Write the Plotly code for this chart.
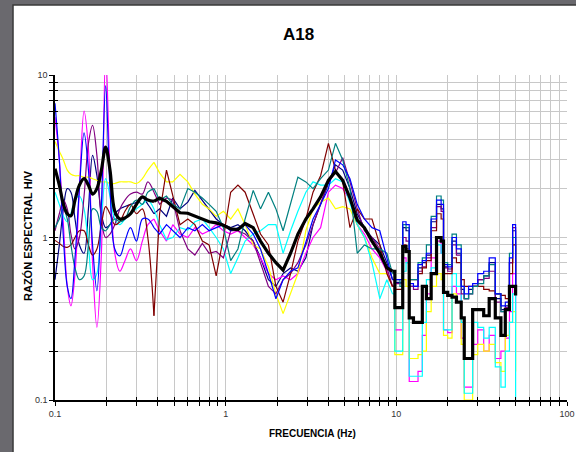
import plotly.graph_objects as go

# ---------------- data ----------------
FREQ = [0.100, 0.106, 0.112, 0.118, 0.124, 0.131, 0.139, 0.148, 0.157, 0.166,
        0.176, 0.187, 0.198, 0.210, 0.224, 0.240, 0.257, 0.277, 0.300, 0.325,
        0.35, 0.38, 0.41, 0.45, 0.49, 0.54, 0.60, 0.66, 0.73, 0.80,
        0.88, 0.97, 1.07, 1.18, 1.30, 1.45, 1.60, 1.78, 1.97, 2.17,
        2.40, 2.65, 2.95, 3.25, 3.60, 4.00, 4.40, 4.85, 5.35, 5.90,
        6.50, 7.20, 8.00, 8.80, 9.50,
        9.8, 10.5, 10.9, 11.4, 11.9, 12.6, 13.4, 14.2, 15.0, 16.0,
        17.2, 18.3, 18.9, 20.0, 21.2, 22.5, 24.0, 25.0, 26.5, 28.0,
        30.0, 32.5, 35.0, 38.0, 41.0, 43.5, 46.0, 48.0, 50.0]

NAVY = [0.55, 0.9, 1.5, 2.0, 1.9, 1.3, 0.9, 0.8, 1.5, 3.2,
        2.4, 1.4, 1.15, 1.2, 1.4, 1.5, 1.55, 1.6, 1.65, 1.75,
        1.6, 1.4, 1.5, 1.35, 1.75, 1.5, 1.65, 1.95, 1.7, 1.5,
        1.3, 1.2, 1.15, 1.2, 1.1, 0.95, 0.75, 0.55, 0.5, 0.6,
        0.65, 0.62, 0.75, 1.2, 1.6, 2.1, 2.8, 2.6, 2.0, 1.4,
        1.15, 1.0, 0.9, 0.7, 0.55,
        0.53, 0.53, 1.15, 1.1, 0.5, 0.5, 0.65, 0.7, 0.78, 1.25,
        1.6, 1.5, 0.66, 0.64, 0.95, 0.8, 0.48, 0.42, 0.48, 0.5,
        0.55, 0.58, 0.7, 0.42, 0.36, 0.38, 0.7, 1.1, 0.48]

MAGENTA = [5.5, 3.0, 1.2, 0.5, 0.38, 0.6, 2.0, 6.0, 3.5, 0.7,
           0.28, 0.8, 14.0, 2.5, 0.8, 0.62, 0.72, 0.85, 0.72, 0.95,
           1.2, 1.3, 1.1, 0.95, 1.2, 1.05, 1.0, 1.15, 1.05, 1.1,
           1.2, 1.1, 1.05, 1.1, 1.0, 0.9, 0.75, 0.6, 0.55, 0.58,
           0.55, 0.6, 0.8, 1.0, 1.15, 1.9, 2.1, 2.0, 1.7, 1.2,
           1.05, 0.85, 0.75, 0.62, 0.5,
           0.27, 0.27, 0.75, 0.7, 0.13, 0.13, 0.15, 0.25, 0.45, 0.75,
           0.95, 0.8, 0.27, 0.26, 0.5, 0.45, 0.24, 0.12, 0.12, 0.22,
           0.27, 0.2, 0.25, 0.18, 0.2, 0.24, 0.35, 0.6, 0.3]

YELLOW = [3.9, 3.4, 3.0, 2.6, 2.45, 2.4, 2.4, 2.35, 2.35, 2.3,
          2.25, 2.2, 2.2, 2.15, 2.15, 2.2, 2.2, 2.2, 2.15, 2.3,
          2.6, 2.9, 2.5, 2.2, 2.2, 2.45, 2.2, 1.85, 1.6, 1.5,
          1.35, 1.45, 1.3, 1.5, 1.2, 0.9, 0.85, 0.66, 0.45, 0.34,
          0.45, 0.6, 1.1, 1.5, 1.65, 1.75, 1.5, 1.55, 1.5, 1.2,
          1.0, 0.75, 0.6, 0.6, 0.5,
          0.19, 0.19, 0.55, 0.5, 0.18, 0.18, 0.19, 0.2, 0.35, 0.5,
          0.6, 0.55, 0.25, 0.24, 0.45, 0.4, 0.22, 0.1, 0.1, 0.19,
          0.22, 0.2, 0.22, 0.17, 0.15, 0.25, 0.3, 0.35, 0.15]

CYAN = [1.9, 1.6, 1.35, 1.25, 1.4, 1.7, 1.8, 1.5, 0.9, 0.55,
        0.6, 1.3, 2.3, 1.8, 1.3, 1.2, 1.3, 1.4, 1.5, 1.6,
        1.7, 1.5, 1.2, 0.97, 1.0, 1.15, 1.11, 1.25, 1.3, 1.15,
        1.0, 0.85, 0.6, 0.75, 0.95, 1.05, 1.1, 1.2, 1.2, 0.8,
        1.1, 1.45, 1.9, 2.2, 2.1, 2.1, 2.3, 2.2, 1.6, 1.2,
        1.0, 0.7, 0.42, 0.55, 0.45,
        0.2, 0.2, 0.62, 0.7, 0.14, 0.14, 0.14, 0.3, 0.55, 0.65,
        0.9, 0.8, 0.27, 0.27, 0.6, 0.5, 0.3, 0.11, 0.11, 0.3,
        0.28, 0.24, 0.28, 0.16, 0.12, 0.2, 0.3, 0.45, 0.1]

PURPLE = [1.1, 1.4, 1.7, 1.5, 1.05, 0.85, 1.0, 1.8, 3.8, 4.9,
          3.2, 1.3, 1.0, 1.05, 1.2, 1.5, 1.7, 1.85, 1.9, 1.85,
          2.2, 1.9, 1.6, 1.75, 1.7, 1.1, 0.85, 0.78, 0.92, 0.8,
          0.82, 0.75, 1.1, 1.1, 1.05, 0.95, 0.7, 0.5, 0.45, 0.55,
          0.6, 0.7, 0.9, 1.2, 1.6, 2.2, 2.5, 3.1, 2.2, 1.5,
          1.1, 1.0, 0.85, 0.65, 0.5,
          0.52, 0.52, 1.0, 0.95, 0.5, 0.48, 0.62, 0.66, 0.75, 1.15,
          1.55, 1.45, 0.65, 0.62, 0.9, 0.78, 0.45, 0.42, 0.45, 0.5,
          0.55, 0.56, 0.62, 0.4, 0.35, 0.37, 0.7, 1.15, 0.45]

MAROON = [0.96, 0.92, 0.88, 0.87, 0.9, 1.0, 1.1, 1.1, 0.9, 0.78,
          0.85, 1.2, 1.55, 1.4, 1.2, 1.25, 1.45, 1.6, 1.4, 1.5,
          1.0, 0.33, 1.4, 2.6, 1.8, 1.2, 1.3, 1.2, 0.95, 0.9,
          0.58, 1.0, 1.9, 2.1, 1.9, 1.4, 1.05, 0.9, 0.5, 0.4,
          0.6, 0.95, 1.3, 1.9, 2.4, 3.8, 2.6, 2.2, 1.15, 1.5,
          1.3, 1.3, 0.9, 0.6, 0.5,
          0.48, 0.48, 0.9, 0.85, 0.55, 0.55, 0.6, 0.65, 0.72, 1.1,
          1.4, 1.3, 0.6, 0.6, 0.75, 0.7, 0.55, 0.5, 0.5, 0.5,
          0.5, 0.48, 0.47, 0.45, 0.44, 0.42, 0.6, 0.9, 0.45]

TEAL = [1.15, 1.3, 1.5, 1.3, 0.9, 0.65, 0.55, 0.58, 0.9, 1.5,
        1.45, 1.15, 1.1, 1.2, 1.3, 1.25, 1.3, 1.55, 1.7, 1.6,
        1.9, 2.0, 1.7, 1.8, 1.6, 1.5, 2.0, 1.9, 1.75, 1.6,
        1.45, 1.15, 0.72, 0.85, 1.3, 1.95, 1.5, 1.9, 1.5, 1.1,
        1.6, 2.35, 2.2, 2.0, 2.3, 2.6, 3.8, 3.0, 2.0, 0.8,
        0.9, 0.85, 0.85, 0.8, 0.6,
        0.55, 0.5, 1.2, 1.15, 0.55, 0.55, 0.7, 0.75, 0.9, 1.35,
        1.8, 1.7, 0.7, 0.68, 1.05, 0.9, 0.5, 0.42, 0.45, 0.5,
        0.52, 0.58, 0.68, 0.45, 0.35, 0.36, 0.8, 1.0, 0.45]

BLUE = [6.7, 3.0, 1.0, 0.5, 0.42, 0.75, 2.0, 4.4, 2.6, 0.9,
        0.47, 1.6, 8.6, 2.0, 0.85, 0.77, 0.95, 1.15, 0.95, 1.3,
        1.3, 1.15, 1.05, 1.2, 1.1, 1.0, 1.15, 1.1, 1.2, 1.1,
        1.15, 1.2, 1.1, 1.15, 1.2, 1.05, 0.85, 0.6, 0.42, 0.55,
        0.62, 0.65, 0.95, 1.3, 1.6, 2.0, 3.0, 2.8, 2.3, 1.6,
        1.3, 1.15, 1.1, 0.75, 0.55,
        0.55, 0.55, 1.25, 1.2, 0.52, 0.5, 0.68, 0.72, 0.8, 1.3,
        1.7, 1.6, 0.68, 0.66, 1.0, 0.85, 0.5, 0.45, 0.5, 0.52,
        0.6, 0.62, 0.75, 0.45, 0.38, 0.4, 0.75, 1.2, 0.5]

AVERAGE = [2.65, 2.1, 1.6, 1.4, 1.36, 1.7, 2.1, 2.3, 2.1, 1.85,
           2.0, 2.6, 3.6, 2.6, 1.45, 1.3, 1.32, 1.4, 1.6, 1.78,
           1.7, 1.67, 1.75, 1.67, 1.55, 1.42, 1.41, 1.35, 1.29, 1.25,
           1.23, 1.19, 1.13, 1.12, 1.22, 1.15, 0.95, 0.8, 0.7, 0.63,
           0.8, 1.05, 1.3, 1.5, 1.78, 2.25, 2.55, 2.25, 1.75, 1.28,
           1.15, 0.95, 0.8, 0.65, 0.62,
           0.37, 0.37, 0.88, 0.82, 0.32, 0.30, 0.30, 0.5, 0.42, 0.6,
           1.0, 0.95, 0.46, 0.44, 0.43, 0.40, 0.32, 0.18, 0.18, 0.36,
           0.36, 0.33, 0.42, 0.32, 0.25, 0.36, 0.5, 0.5, 0.44]

X_TICKS = [m * 10.0 ** e for e in (-1, 0, 1) for m in range(1, 10)] + [100.0]
Y_TICKS = [m * 10.0 ** e for e in (-1, 0) for m in range(1, 10)] + [10.0]
X_LABELS = {0.1: "0.1", 1.0: "1", 10.0: "10", 100.0: "100"}
Y_LABELS = {0.1: "0.1", 1.0: "1", 10.0: "10"}

# index boundaries: smooth low-frequency part, noisy middle, blocky high part
SMOOTH_END = 21   # up to 0.38 Hz
STEP_START = 54   # from 9.5 Hz

# ---------------- figure ----------------
series = [
    (NAVY, "#000080", 1.2), (MAGENTA, "#FF00FF", 1.2), (YELLOW, "#FFFF00", 1.2),
    (CYAN, "#00FFFF", 1.2), (PURPLE, "#800080", 1.2), (MAROON, "#800000", 1.2),
    (TEAL, "#008080", 1.2), (BLUE, "#0000FF", 1.2), (AVERAGE, "#000000", 3.2),
]

fig = go.Figure()
for vals, col, w in series:
    parts = [
        (FREQ[:SMOOTH_END + 1], vals[:SMOOTH_END + 1], "spline"),
        (FREQ[SMOOTH_END:STEP_START + 1], vals[SMOOTH_END:STEP_START + 1], "linear"),
        (FREQ[STEP_START:], vals[STEP_START:], "hv"),
    ]
    for xs, ys, shape in parts:
        fig.add_trace(go.Scatter(x=xs, y=ys, mode="lines",
                                 line=dict(color=col, width=w, shape=shape),
                                 showlegend=False, hoverinfo="skip"))

# invisible trace that carries the inner half of the crossing tick marks
fig.add_trace(go.Scatter(x=[FREQ[0]], y=[AVERAGE[0]], xaxis="x2", yaxis="y2",
                         mode="markers", marker=dict(opacity=0),
                         showlegend=False, hoverinfo="skip"))

FONT = "Liberation Sans, Arial, sans-serif"

def lbl(v, d):
    for k, t in d.items():
        if abs(v - k) < 1e-9:
            return t
    return ""

axis_common = dict(
    type="log", showgrid=True, gridcolor="#c8c8c8", gridwidth=1.3,
    showline=True, linecolor="black", linewidth=1.5,
    ticks="outside", ticklen=4, tickcolor="black", tickwidth=1,
    tickfont=dict(size=9, color="#333333", family=FONT),
    zeroline=False, automargin=False,
)
inner_common = dict(
    type="log", showgrid=False, showline=False, zeroline=False,
    ticks="inside", ticklen=3, tickcolor="black", tickwidth=1,
    showticklabels=False, automargin=False,
)

fig.update_layout(
    width=576, height=452,
    margin=dict(l=55, r=9, t=75, b=52),
    paper_bgcolor="#6a696e", plot_bgcolor="white",
    showlegend=False,
    font=dict(family=FONT),
    xaxis=dict(range=[-1, 2], tickvals=X_TICKS,
               ticktext=[lbl(v, X_LABELS) for v in X_TICKS], **axis_common),
    yaxis=dict(range=[-1, 1], tickvals=Y_TICKS,
               ticktext=[lbl(v, Y_LABELS) for v in Y_TICKS], **axis_common),
    xaxis2=dict(range=[-1, 2], tickvals=X_TICKS, overlaying="x", anchor="y",
                side="bottom", **inner_common),
    yaxis2=dict(range=[-1, 1], tickvals=Y_TICKS, overlaying="y", anchor="x",
                side="left", **inner_common),
    shapes=[dict(type="rect", xref="paper", yref="paper",
                 x0=-0.082, x1=1.1, y0=-0.3, y1=1.2154,
                 fillcolor="white", line=dict(color="#3a3a3a", width=1.5),
                 layer="below")],
    title=dict(text="<b>A18</b>", xref="container", yref="container",
               x=298.7 / 576, y=1 - 34 / 452, xanchor="center", yanchor="middle",
               font=dict(size=17, color="black", family=FONT)),
    annotations=[
        dict(text="<b>FRECUENCIA (Hz)</b>", xref="paper", yref="paper",
             x=(312 - 55) / 512, y=(400 - 433) / 325, showarrow=False,
             xanchor="center", yanchor="middle",
             font=dict(size=10, color="black", family=FONT)),
        dict(text="<b>RAZÓN ESPECTRAL H/V</b>", xref="paper", yref="paper",
             x=(28 - 55) / 512, y=(400 - 236) / 325, showarrow=False,
             textangle=-90, xanchor="center", yanchor="middle",
             font=dict(size=11, color="black", family=FONT)),
    ],
)

fig.write_html("out.html")
